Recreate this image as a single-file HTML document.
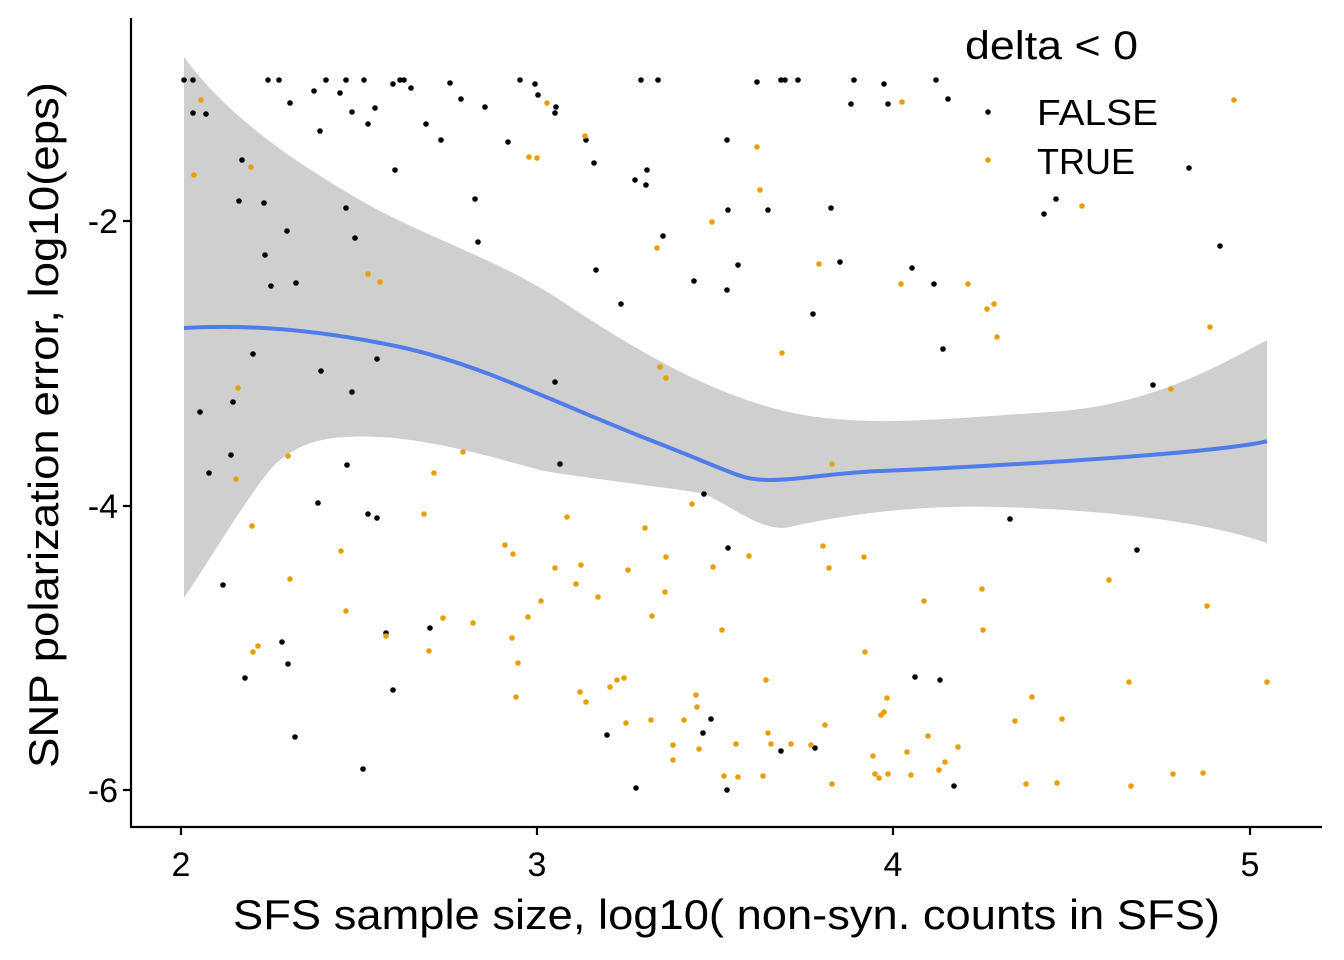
<!DOCTYPE html>
<html><head><style>body{margin:0;background:#fff}svg{display:block}text{font-family:"Liberation Sans",Arial,sans-serif;fill:#000}</style></head>
<body>
<svg width="1344" height="960" viewBox="0 0 1344 960">
<path d="M184,57 C230,120 300,165 360,200 S500,260 560,300 S700,390 780,410 S950,418 1050,412 S1220,365 1267,340 L1267,543 C1200,520 1100,510 1000,507 S820,520 790,527 S720,497 700,493 S560,475 540,470 S440,440 380,437 S300,445 280,460 S210,560 184,598 Z" fill="#cfcfcf"/>
<path d="M184,328 C250,324 320,330 400,347 S560,405 650,440 S740,480 770,480 S830,473 880,471 S1050,463 1150,455 S1267,441 1267,441" fill="none" stroke="#4f7ce8" stroke-width="4"/>
<g fill="#000">
<circle cx="184" cy="80" r="2.8"/><circle cx="193" cy="80" r="2.8"/><circle cx="268" cy="80" r="2.8"/><circle cx="279" cy="80" r="2.8"/><circle cx="326" cy="80" r="2.8"/><circle cx="346" cy="80" r="2.8"/><circle cx="364" cy="80" r="2.8"/><circle cx="400" cy="80" r="2.8"/><circle cx="404" cy="80" r="2.8"/><circle cx="411" cy="88" r="2.8"/><circle cx="450" cy="83" r="2.8"/><circle cx="520" cy="80" r="2.8"/><circle cx="535" cy="84" r="2.8"/><circle cx="641" cy="80" r="2.8"/><circle cx="658" cy="80" r="2.8"/><circle cx="757" cy="82" r="2.8"/><circle cx="781" cy="80" r="2.8"/><circle cx="785" cy="80" r="2.8"/><circle cx="798" cy="80" r="2.8"/><circle cx="854" cy="80" r="2.8"/><circle cx="884" cy="84" r="2.8"/><circle cx="936" cy="80" r="2.8"/>
<circle cx="193" cy="113" r="2.8"/><circle cx="206" cy="114" r="2.8"/><circle cx="290" cy="103" r="2.8"/><circle cx="314" cy="91" r="2.8"/><circle cx="340" cy="93" r="2.8"/><circle cx="352" cy="112" r="2.8"/><circle cx="375" cy="108" r="2.8"/><circle cx="393" cy="84" r="2.8"/><circle cx="461" cy="99" r="2.8"/><circle cx="485" cy="107" r="2.8"/><circle cx="538" cy="95" r="2.8"/><circle cx="556" cy="107" r="2.8"/><circle cx="555" cy="113" r="2.8"/><circle cx="851" cy="104" r="2.8"/><circle cx="888" cy="104" r="2.8"/><circle cx="948" cy="99" r="2.8"/>
<circle cx="368" cy="124" r="2.8"/><circle cx="320" cy="131" r="2.8"/><circle cx="426" cy="124" r="2.8"/><circle cx="441" cy="140" r="2.8"/><circle cx="508" cy="142" r="2.8"/><circle cx="586" cy="140" r="2.8"/><circle cx="727" cy="140" r="2.8"/><circle cx="242" cy="160" r="2.8"/><circle cx="395" cy="170" r="2.8"/><circle cx="594" cy="163" r="2.8"/><circle cx="647" cy="170" r="2.8"/><circle cx="635" cy="180" r="2.8"/><circle cx="646" cy="185" r="2.8"/><circle cx="1189" cy="168" r="2.8"/><circle cx="239" cy="201" r="2.8"/><circle cx="264" cy="203" r="2.8"/><circle cx="346" cy="208" r="2.8"/><circle cx="475" cy="199" r="2.8"/><circle cx="728" cy="210" r="2.8"/><circle cx="768" cy="210" r="2.8"/><circle cx="831" cy="208" r="2.8"/><circle cx="1056" cy="199" r="2.8"/><circle cx="1044" cy="214" r="2.8"/><circle cx="1220" cy="246" r="2.8"/><circle cx="355" cy="238" r="2.8"/><circle cx="478" cy="242" r="2.8"/><circle cx="663" cy="236" r="2.8"/><circle cx="287" cy="231" r="2.8"/><circle cx="265" cy="255" r="2.8"/><circle cx="271" cy="286" r="2.8"/><circle cx="296" cy="283" r="2.8"/><circle cx="596" cy="270" r="2.8"/><circle cx="694" cy="281" r="2.8"/><circle cx="738" cy="265" r="2.8"/><circle cx="840" cy="262" r="2.8"/><circle cx="912" cy="268" r="2.8"/><circle cx="934" cy="284" r="2.8"/><circle cx="727" cy="290" r="2.8"/><circle cx="621" cy="304" r="2.8"/><circle cx="813" cy="314" r="2.8"/><circle cx="253" cy="354" r="2.8"/><circle cx="321" cy="371" r="2.8"/><circle cx="377" cy="359" r="2.8"/><circle cx="943" cy="349" r="2.8"/><circle cx="555" cy="382" r="2.8"/><circle cx="1153" cy="385" r="2.8"/><circle cx="352" cy="392" r="2.8"/><circle cx="233" cy="402" r="2.8"/><circle cx="200" cy="412" r="2.8"/><circle cx="231" cy="455" r="2.8"/><circle cx="347" cy="465" r="2.8"/><circle cx="560" cy="464" r="2.8"/><circle cx="704" cy="494" r="2.8"/><circle cx="318" cy="503" r="2.8"/><circle cx="368" cy="514" r="2.8"/><circle cx="377" cy="518" r="2.8"/><circle cx="1010" cy="519" r="2.8"/><circle cx="209" cy="473" r="2.8"/><circle cx="223" cy="585" r="2.8"/><circle cx="282" cy="642" r="2.8"/><circle cx="386" cy="633" r="2.8"/><circle cx="430" cy="628" r="2.8"/><circle cx="1137" cy="550" r="2.8"/><circle cx="288" cy="664" r="2.8"/><circle cx="245" cy="678" r="2.8"/><circle cx="393" cy="690" r="2.8"/><circle cx="295" cy="737" r="2.8"/><circle cx="363" cy="769" r="2.8"/><circle cx="607" cy="735" r="2.8"/><circle cx="703" cy="733" r="2.8"/><circle cx="711" cy="719" r="2.8"/><circle cx="915" cy="677" r="2.8"/><circle cx="940" cy="680" r="2.8"/><circle cx="781" cy="751" r="2.8"/><circle cx="815" cy="748" r="2.8"/><circle cx="636" cy="788" r="2.8"/><circle cx="727" cy="790" r="2.8"/><circle cx="954" cy="786" r="2.8"/><circle cx="728" cy="548" r="2.8"/>
</g>
<g fill="#e69f00">
<circle cx="194" cy="175" r="2.8"/><circle cx="201" cy="100" r="2.8"/><circle cx="547" cy="103" r="2.8"/><circle cx="585" cy="136" r="2.8"/><circle cx="529" cy="157" r="2.8"/><circle cx="537" cy="158" r="2.8"/><circle cx="251" cy="167" r="2.8"/><circle cx="757" cy="147" r="2.8"/><circle cx="760" cy="190" r="2.8"/><circle cx="902" cy="102" r="2.8"/><circle cx="1234" cy="100" r="2.8"/><circle cx="712" cy="222" r="2.8"/><circle cx="1082" cy="206" r="2.8"/><circle cx="238" cy="388" r="2.8"/><circle cx="236" cy="479" r="2.8"/><circle cx="288" cy="456" r="2.8"/><circle cx="368" cy="274" r="2.8"/><circle cx="380" cy="282" r="2.8"/><circle cx="657" cy="248" r="2.8"/><circle cx="819" cy="264" r="2.8"/><circle cx="901" cy="284" r="2.8"/><circle cx="968" cy="284" r="2.8"/><circle cx="987" cy="309" r="2.8"/><circle cx="994" cy="304" r="2.8"/><circle cx="997" cy="337" r="2.8"/><circle cx="1210" cy="327" r="2.8"/><circle cx="1171" cy="389" r="2.8"/><circle cx="782" cy="353" r="2.8"/><circle cx="660" cy="367" r="2.8"/><circle cx="666" cy="378" r="2.8"/><circle cx="463" cy="452" r="2.8"/><circle cx="434" cy="473" r="2.8"/><circle cx="567" cy="517" r="2.8"/><circle cx="424" cy="514" r="2.8"/><circle cx="645" cy="528" r="2.8"/><circle cx="692" cy="504" r="2.8"/><circle cx="252" cy="526" r="2.8"/><circle cx="832" cy="464" r="2.8"/><circle cx="341" cy="551" r="2.8"/><circle cx="290" cy="579" r="2.8"/><circle cx="346" cy="611" r="2.8"/><circle cx="443" cy="618" r="2.8"/><circle cx="473" cy="623" r="2.8"/><circle cx="429" cy="651" r="2.8"/><circle cx="258" cy="646" r="2.8"/><circle cx="253" cy="652" r="2.8"/><circle cx="386" cy="636" r="2.8"/><circle cx="512" cy="638" r="2.8"/><circle cx="518" cy="663" r="2.8"/><circle cx="516" cy="697" r="2.8"/><circle cx="505" cy="545" r="2.8"/><circle cx="513" cy="554" r="2.8"/><circle cx="555" cy="568" r="2.8"/><circle cx="581" cy="565" r="2.8"/><circle cx="576" cy="584" r="2.8"/><circle cx="598" cy="597" r="2.8"/><circle cx="528" cy="617" r="2.8"/><circle cx="541" cy="601" r="2.8"/><circle cx="628" cy="570" r="2.8"/><circle cx="666" cy="557" r="2.8"/><circle cx="665" cy="592" r="2.8"/><circle cx="652" cy="616" r="2.8"/><circle cx="713" cy="567" r="2.8"/><circle cx="749" cy="556" r="2.8"/><circle cx="823" cy="546" r="2.8"/><circle cx="829" cy="568" r="2.8"/><circle cx="864" cy="557" r="2.8"/><circle cx="982" cy="589" r="2.8"/><circle cx="1109" cy="580" r="2.8"/><circle cx="1207" cy="606" r="2.8"/><circle cx="924" cy="601" r="2.8"/><circle cx="983" cy="630" r="2.8"/><circle cx="865" cy="652" r="2.8"/><circle cx="722" cy="630" r="2.8"/><circle cx="624" cy="678" r="2.8"/><circle cx="580" cy="692" r="2.8"/><circle cx="586" cy="702" r="2.8"/><circle cx="610" cy="687" r="2.8"/><circle cx="617" cy="680" r="2.8"/><circle cx="766" cy="680" r="2.8"/><circle cx="696" cy="695" r="2.8"/><circle cx="697" cy="707" r="2.8"/><circle cx="651" cy="720" r="2.8"/><circle cx="684" cy="720" r="2.8"/><circle cx="699" cy="749" r="2.8"/><circle cx="626" cy="723" r="2.8"/><circle cx="673" cy="745" r="2.8"/><circle cx="673" cy="760" r="2.8"/><circle cx="736" cy="744" r="2.8"/><circle cx="768" cy="733" r="2.8"/><circle cx="771" cy="744" r="2.8"/><circle cx="791" cy="744" r="2.8"/><circle cx="825" cy="725" r="2.8"/><circle cx="811" cy="745" r="2.8"/><circle cx="887" cy="698" r="2.8"/><circle cx="884" cy="712" r="2.8"/><circle cx="881" cy="715" r="2.8"/><circle cx="907" cy="752" r="2.8"/><circle cx="928" cy="736" r="2.8"/><circle cx="958" cy="747" r="2.8"/><circle cx="873" cy="756" r="2.8"/><circle cx="875" cy="774" r="2.8"/><circle cx="879" cy="778" r="2.8"/><circle cx="888" cy="774" r="2.8"/><circle cx="911" cy="775" r="2.8"/><circle cx="945" cy="762" r="2.8"/><circle cx="939" cy="770" r="2.8"/><circle cx="1015" cy="721" r="2.8"/><circle cx="1032" cy="697" r="2.8"/><circle cx="1062" cy="719" r="2.8"/><circle cx="1173" cy="774" r="2.8"/><circle cx="1203" cy="773" r="2.8"/><circle cx="1267" cy="682" r="2.8"/><circle cx="1129" cy="682" r="2.8"/><circle cx="1131" cy="786" r="2.8"/><circle cx="1026" cy="784" r="2.8"/><circle cx="1057" cy="783" r="2.8"/><circle cx="832" cy="784" r="2.8"/><circle cx="724" cy="776" r="2.8"/><circle cx="763" cy="776" r="2.8"/><circle cx="738" cy="777" r="2.8"/>
</g>
<g stroke="#000" stroke-width="2.2" fill="none">
<path d="M131,18 V827 H1322"/>
<path d="M123,221 H131 M123,506 H131 M123,790 H131"/>
<path d="M181,827 V835 M537,827 V835 M893,827 V835 M1250,827 V835"/>
</g>
<g font-size="34" fill="#000">
<text x="118" y="233" text-anchor="end">-2</text>
<text x="118" y="518" text-anchor="end">-4</text>
<text x="118" y="802" text-anchor="end">-6</text>
<text x="181" y="876" text-anchor="middle">2</text>
<text x="537" y="876" text-anchor="middle">3</text>
<text x="893" y="876" text-anchor="middle">4</text>
<text x="1250" y="876" text-anchor="middle">5</text>
</g>
<text x="233" y="929" font-size="42" textLength="987" lengthAdjust="spacingAndGlyphs">SFS sample size, log10( non-syn. counts in SFS)</text>
<text transform="translate(58,768) rotate(-90)" font-size="42" textLength="686" lengthAdjust="spacingAndGlyphs">SNP polarization error, log10(eps)</text>
<text x="965" y="59" font-size="40" textLength="173" lengthAdjust="spacingAndGlyphs">delta &lt; 0</text>
<circle cx="988" cy="112" r="2.8" fill="#000"/>
<circle cx="988" cy="160" r="2.8" fill="#e69f00"/>
<text x="1037" y="125" font-size="36" textLength="121" lengthAdjust="spacingAndGlyphs">FALSE</text>
<text x="1037" y="174" font-size="36">TRUE</text>
</svg>
</body></html>
